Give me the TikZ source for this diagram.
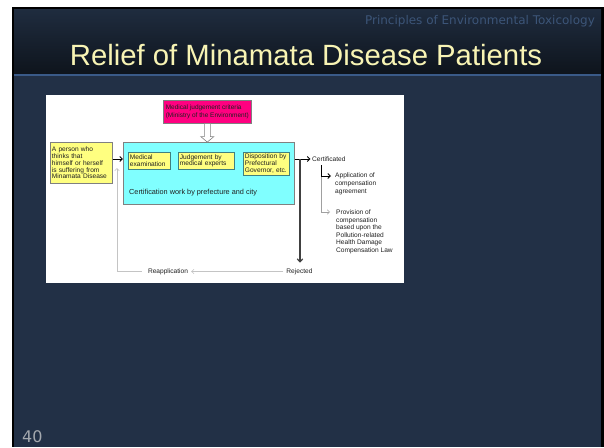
\documentclass[tikz,border=0pt]{standalone}
\usepackage{fontspec}
\setmainfont{Liberation Sans}
\newfontfamily\djv{DejaVu Sans}
\usetikzlibrary{arrows.meta}
\definecolor{bodybg}{HTML}{223046}
\definecolor{headtop}{HTML}{1F2C3F}
\definecolor{headbot}{HTML}{0E141C}
\definecolor{headline}{HTML}{3A5A88}
\definecolor{titlecol}{HTML}{F8F4B4}
\definecolor{subcol}{HTML}{3C5578}
\definecolor{numcol}{HTML}{A4A8AE}
\definecolor{magfill}{HTML}{FF0080}
\definecolor{cyanfill}{HTML}{80FFFF}
\definecolor{yelfill}{HTML}{FFFF80}
\definecolor{boxgrey}{HTML}{808080}
\definecolor{inborder}{HTML}{408080}
\definecolor{lightg}{HTML}{C4C4C4}
\definecolor{midg}{HTML}{A0A0A0}
\definecolor{dtxt}{HTML}{202020}
\newcommand{\dg}{\fontsize{6.6}{6.9}\selectfont}
\newcommand{\dgr}{\fontsize{6.6}{7.6}\selectfont}
\newcommand{\dgl}{\fontsize{7.3}{7.6}\selectfont}
\newcommand{\dgm}{\fontsize{6.5}{7.2}\selectfont}
\tikzset{
  dtext/.style={font=\dg, align=left, inner sep=0pt, text=dtxt},
  boxbase/.style={anchor=north west, font=\dg, align=left, inner sep=1.6pt, line width=0.6pt, text=dtxt},
  ybox/.style={boxbase, draw=boxgrey, fill=yelfill},
  ibox/.style={boxbase, draw=inborder, fill=yelfill},
  arr/.style={-{Straight Barb[length=2.6pt,width=5pt]}, line width=0.9pt, black},
  darr/.style={-{Straight Barb[length=3pt,width=5.5pt]}, line width=1.2pt, black!75},
  garr/.style={-{Straight Barb[length=2.4pt,width=4.5pt]}, line width=0.5pt, midg},
  lgarr/.style={-{Straight Barb[length=2.4pt,width=4.5pt]}, line width=0.6pt, lightg},
}
\begin{document}
\begin{tikzpicture}[x=1pt,y=-1pt]
\useasboundingbox (0,0) rectangle (604,447);
% slide background
\fill[white] (0,0) rectangle (604,447);
\fill[black] (12,7) rectangle (604,447);
\fill[bodybg] (14,9) rectangle (601,447);
\shade[top color=headtop, bottom color=headbot] (14,9) rectangle (601,74);
\fill[headline] (14,74) rectangle (601,75.5);
% header texts
\node[anchor=base east, font=\djv\fontsize{12}{12}\selectfont, text=subcol, inner sep=0pt] (sub) at (595,24) {Principles of Environmental Toxicology};
\node[anchor=base, font=\fontsize{29.3}{30}\selectfont, text=titlecol, inner sep=0pt] (title) at (306,65) {Relief of Minamata Disease Patients};
\node[anchor=base west, font=\djv\fontsize{16}{16}\selectfont, text=numcol, inner sep=0pt] (num) at (22,442) {40};
% picture area
\fill[white] (46,95) rectangle (404,283);
% boxes
\node[boxbase, draw=boxgrey, fill=magfill, minimum width=88pt, minimum height=23pt, inner sep=1pt, font=\dgm] (crit) at (163,100) {Medical judgement criteria\\(Ministry of the Environment)};
\node[boxbase, draw=boxgrey, fill=cyanfill, minimum width=171pt, minimum height=62pt] (cert) at (123,142) {};
\node[ybox, minimum width=62pt, minimum height=41pt, text width=59pt] (person) at (50,142) {A person who\\thinks that\\himself or herself\\is suffering from\\Minamata Disease};
\node[ibox, minimum width=42pt, minimum height=17pt, text width=39pt] (exam) at (128,152) {Medical\\examination};
\node[ibox, minimum width=56pt, minimum height=17pt, text width=53pt] (judge) at (178,152) {Judgement by\\medical experts};
\node[ibox, minimum width=46pt, minimum height=23pt, text width=43pt] (disp) at (243,152) {Disposition by\\Prefectural\\Governor, etc.};
\node[dtext, anchor=west, font=\dgl] (certtxt) at (129,193) {Certification work by prefecture and city};
% hollow arrow from criteria to certification
\draw[boxgrey, fill=white, line width=0.6pt] ([xshift=-3pt]crit.south) -- ([xshift=3pt]crit.south) -- ([xshift=3pt,yshift=-13pt]crit.south) -- ([xshift=6.5pt,yshift=-13pt]crit.south) -- ([yshift=-18.5pt]crit.south) -- ([xshift=-6.5pt,yshift=-13pt]crit.south) -- ([xshift=-3pt,yshift=-13pt]crit.south) -- cycle;
% right side texts
\node[dtext, anchor=west] (certd) at (312,159) {Certificated};
\node[dtext, anchor=north west, font=\dgr] (app) at (335,173) {Application of\\compensation\\agreement};
\node[dtext, anchor=north west, font=\dgr] (prov) at (336,209.5) {Provision of\\compensation\\based upon the\\Pollution-related\\Health Damage\\Compensation Law};
\node[dtext, anchor=center] (rej) at (299.5,271.5) {Rejected};
\node[dtext, anchor=center] (reap) at (168,271.5) {Reapplication};
% coordinates
\coordinate (split) at (300,159);
\coordinate (lturn) at (321,165);
\coordinate (lcorner) at (321,176);
\coordinate (pcorner) at (321,212);
\coordinate (rcorner) at (117,271.5);
\coordinate (rtip) at (117,168);
% connectors
\draw[arr] (person.east |- split) -- (cert.west |- split);
\draw[line width=0.9pt] (cert.east |- split) -- (split);
\draw[arr] (split) -- ([xshift=-1.5pt]certd.west);
\draw[darr] (split) -- ([yshift=5.5pt]rej.north -| split);
\draw[garr] (lcorner) -- (pcorner) -- ([xshift=-6pt]prov.west |- pcorner);
\draw[arr] (lturn) -- (lcorner) -- ([xshift=-4pt]app.west |- lcorner);
\draw[lgarr] ([xshift=-3pt]rej.west) -- ([xshift=3pt]reap.east);
\draw[lgarr] ([xshift=-6pt]reap.west) -- (rcorner) -- (rtip);
\end{tikzpicture}
\end{document}
